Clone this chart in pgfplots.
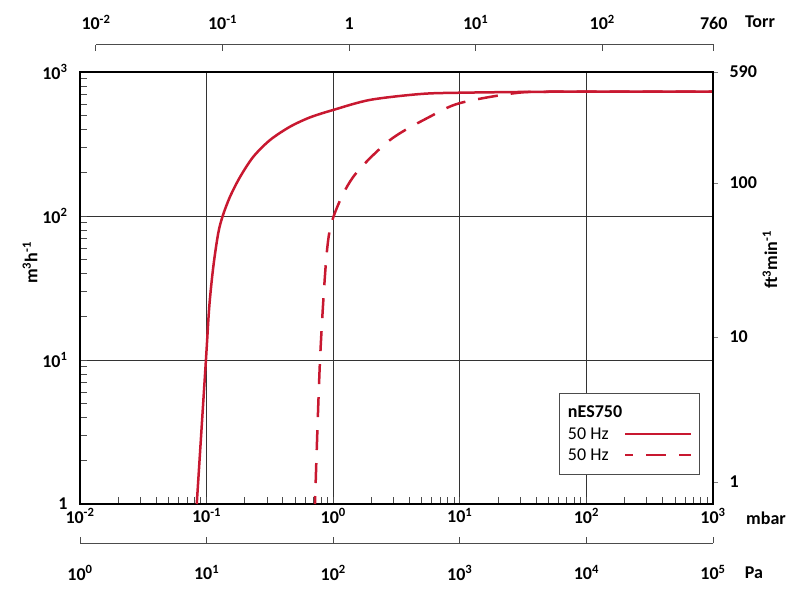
\documentclass[border=0pt]{standalone}
\usepackage{pgfplots}
\pgfplotsset{compat=1.18}
\usepackage{fontspec}
\setmainfont{Carlito}
\definecolor{curve}{RGB}{200,24,48}
\newcommand{\lab}{\fontsize{18}{18}\selectfont\bfseries}
\begin{document}
\begin{tikzpicture}[x=1pt,y=1pt]
\useasboundingbox (0,0) rectangle (800,603);
% main axis (mbar, m3/h)
\begin{axis}[
  at={(80pt,99pt)}, anchor=south west, scale only axis,
  width=633pt, height=432pt,
  xmode=log, ymode=log, xmin=0.01, xmax=1000, ymin=1, ymax=1000,
  xtick={0.01,0.1,1,10,100,1000},
  xticklabels={10\textsuperscript{-2},10\textsuperscript{-1},10\textsuperscript{0},10\textsuperscript{1},10\textsuperscript{2},10\textsuperscript{3}},
  ytick={1,10,100,1000},
  yticklabels={1,10\textsuperscript{1},10\textsuperscript{2},10\textsuperscript{3}},
  xtick pos=left, ytick pos=left,
  tick align=inside,
  major tick length=0pt, minor tick length=7pt,
  every tick/.style={black!70, line width=0.7pt},
  grid=major, major grid style={black!80, line width=0.9pt},
  axis line style={line width=2pt},
  tick label style={font=\lab},
  yticklabel style={xshift=-9pt},
  xticklabel style={yshift=-1pt},
  legend style={at={(0.9795,0.2566)}, anchor=north east, draw=black!70, line width=0.8pt,
    font=\fontsize{18}{18}\selectfont, inner xsep=7pt, inner ysep=11.5pt,
    row sep=6pt, nodes={inner ysep=1pt}},
  legend cell align=left, legend plot pos=right,
  legend image code/.code={\draw[#1] (0pt,0pt) -- (66pt,0pt);},
]
\addlegendimage{empty legend}
\addlegendentry{\textbf{nES750}}
\addplot[curve, line width=2.5pt, smooth] coordinates {
(0.0836,1) (0.0988,10) (0.105,23.5) (0.113,44.5) (0.1235,75.8) (0.134,100)
(0.153,136) (0.184,187) (0.234,258) (0.317,337) (0.456,417) (0.656,484)
(1.0,545) (1.95,640) (4.85,703) (10,718) (62,730) (1000,730)};
\addlegendentry{50 Hz}
\addplot[curve, line width=2.5pt, smooth, dash pattern=on 20pt off 13pt, dash phase=12pt] coordinates {
(0.718,1) (0.787,10) (0.889,55) (1.01,100) (1.44,187) (2.81,337)
(5.82,490) (10,608) (26.5,711) (55,730) (1000,730)};
\addlegendentry{50 Hz}
\end{axis}
% right axis (ft3/min)
\begin{axis}[
  at={(80pt,99pt)}, anchor=south west, scale only axis,
  width=633pt, height=432pt,
  ymode=log, ymin=1, ymax=1000, xmin=0, xmax=1,
  hide x axis,
  ytick pos=right, yticklabel pos=right,
  ytick={1.42,14.45,169.9,1000},
  yticklabels={1,10,100,590},
  tick align=outside, major tick length=5pt, minor tick length=0pt,
  every tick/.style={black!50, line width=0.7pt},
  axis line style={line width=2pt},
  tick label style={font=\lab},
  yticklabel style={xshift=8pt},
]
\end{axis}
% top axis (Torr)
\begin{axis}[
  at={(96pt,558pt)}, anchor=north west, scale only axis,
  width=617.7pt, height=20pt,
  xmode=log, xmin=0.01, xmax=760, ymin=0, ymax=1,
  axis x line*=top, axis y line=none, axis line style={-, black!70, line width=1pt},
  xtick={0.01,0.1,1,10,100,760},
  xticklabels={10\textsuperscript{-2},10\textsuperscript{-1},1,10\textsuperscript{1},10\textsuperscript{2},760},
  tick align=inside, major tick length=6pt, minor tick length=0pt,
  every tick/.style={black!70, line width=1pt},
  tick label style={font=\lab},
  xticklabel style={yshift=12pt},
]
\end{axis}
% bottom axis (Pa)
\begin{axis}[
  at={(80pt,60pt)}, anchor=south west, scale only axis,
  width=633pt, height=20pt,
  xmode=log, xmin=1, xmax=100000, ymin=0, ymax=1,
  axis x line*=bottom, axis y line=none, axis line style={-, black!70, line width=1pt},
  xtick={1,10,100,1000,10000,100000},
  xticklabels={10\textsuperscript{0},10\textsuperscript{1},10\textsuperscript{2},10\textsuperscript{3},10\textsuperscript{4},10\textsuperscript{5}},
  tick align=inside, major tick length=6pt, minor tick length=0pt,
  every tick/.style={black!70, line width=1pt},
  tick label style={font=\lab},
  xticklabel style={yshift=-19pt},
]
\end{axis}
\node at (760,581) {\lab Torr};
\node at (766,85) {\lab mbar};
\node at (754,30) {\lab Pa};
\node[rotate=90] at (30,340) {\lab m\textsuperscript{3}h\textsuperscript{-1}};
\node[rotate=90] at (770,343) {\lab ft\textsuperscript{3}min\textsuperscript{-1}};
\end{tikzpicture}
\end{document}
